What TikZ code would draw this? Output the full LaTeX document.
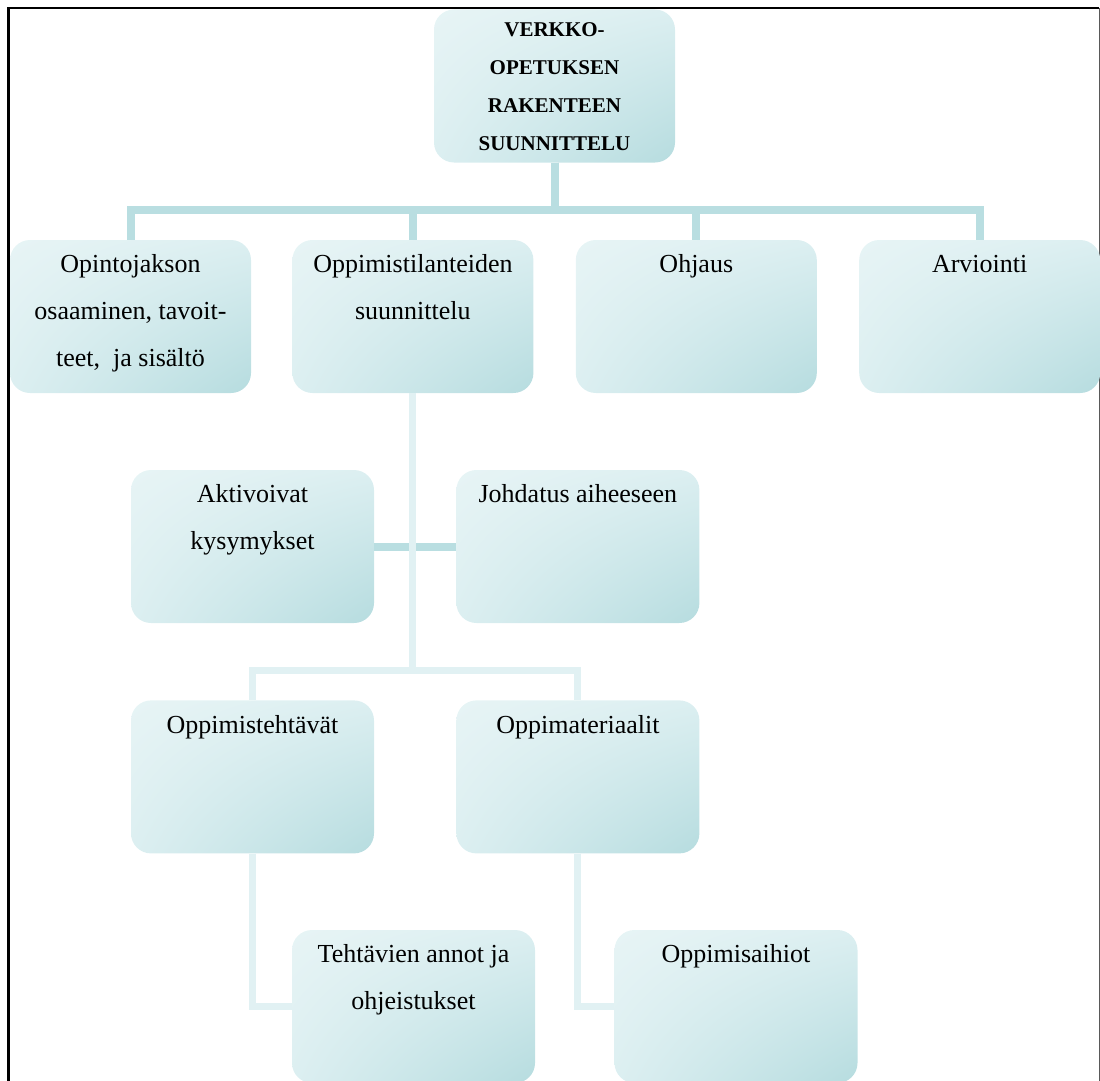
\documentclass[tikz,border=0pt]{standalone}
\usepackage{fontspec}
\setmainfont{Liberation Serif}
\usetikzlibrary{positioning,shadings}

\definecolor{tealline}{HTML}{B9DEE1}
\definecolor{paleline}{HTML}{E1F1F3}
\definecolor{boxlight}{HTML}{E7F4F5}
\definecolor{boxmid}{HTML}{DCEFF1}
\definecolor{boxdark}{HTML}{B6DCDF}

\newcommand{\boxtext}[1]{\parbox[t][153pt][t]{230pt}{\centering\fontsize{26}{47}\selectfont\strut #1}}
\newcommand{\titletext}[1]{\parbox[t][152pt][t]{230pt}{\centering\fontsize{21}{38}\selectfont\bfseries\strut #1}}

\begin{document}
\begin{tikzpicture}[
x=1pt, y=-1pt,
planbox/.style={rectangle, rounded corners=20pt, inner sep=0pt, minimum width=241pt, minimum height=153pt,
  shade, upper left=boxlight, upper right=boxmid, lower left=boxmid, lower right=boxdark},
widebox/.style={planbox, minimum width=243pt},
tealconn/.style={draw=tealline, line width=8pt},
paleconn/.style={draw=paleline, line width=7pt},
]
\useasboundingbox (0,0) rectangle (1100,1081);
\clip (0,0) rectangle (1100,1081);

%Frame
\draw[line width=2.7pt] (8.7,1081) -- (8.7,8) -- (1099,8);
\draw[gray!70!black, line width=1pt] (1099,8) -- (1099,1081);

%Nodes
\node[planbox] (maintopic) at (554.5,86) {\titletext{VERKKO-\\OPETUKSEN\\RAKENTEEN\\SUUNNITTELU}};

\node[planbox] (goals) at (130.5,316.5) {\boxtext{Opintojakson\\osaaminen, tavoit-\\teet,~ ja sisältö}};
\node[planbox] (situations) [right=41pt of goals] {\boxtext{Oppimistilanteiden\\suunnittelu}};
\node[planbox] (guidance) [right=42pt of situations] {\boxtext{Ohjaus}};
\node[planbox] (assessment) [right=42pt of guidance] {\boxtext{Arviointi}};

\node[widebox] (questions) at (252.5,546.5) {\boxtext{Aktivoivat\\kysymykset}};
\node[widebox] (intro) [right=82pt of questions] {\boxtext{Johdatus aiheeseen}};

\node[widebox] (tasks) [below=77pt of questions] {\boxtext{Oppimistehtävät}};
\node[widebox] (materials) [below=77pt of intro] {\boxtext{Oppimateriaalit}};

\node[widebox] (instructions) at (413.5,1006.5) {\boxtext{Tehtävien annot ja\\ohjeistukset}};
\node[widebox] (objects) at (736,1006.5) {\boxtext{Oppimisaihiot}};

%Lines
\draw[tealconn] (maintopic.south) -- ++(0,47) -| (goals.north);
\draw[tealconn] (maintopic.south) -- ++(0,47) -| (situations.north);
\draw[tealconn] (maintopic.south) -- ++(0,47) -| (guidance.north);
\draw[tealconn] (maintopic.south) -- ++(0,47) -| (assessment.north);

\draw[tealconn] (questions.east) -- (intro.west);
\draw[paleconn] (situations.south) -- ++(0,277) -| (tasks.north);
\draw[paleconn] (situations.south) -- ++(0,277) -| (materials.north);

\draw[paleconn] (tasks.south) |- (instructions.west);
\draw[paleconn] (materials.south) |- (objects.west);

\end{tikzpicture}
\end{document}
